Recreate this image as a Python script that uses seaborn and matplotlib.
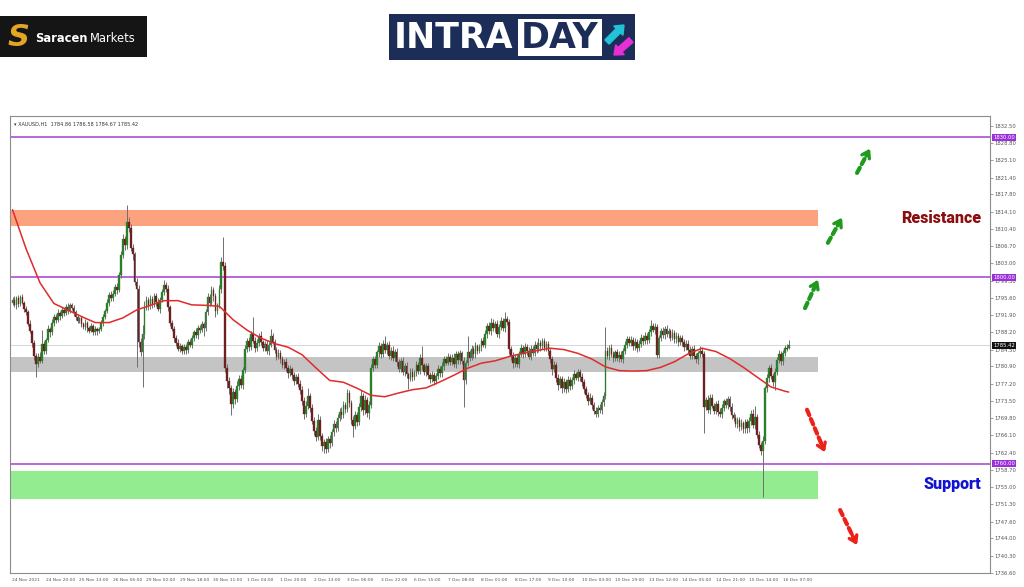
import matplotlib
matplotlib.use('Agg')
import matplotlib.pyplot as plt
import matplotlib.patches as mpatches
import matplotlib.transforms as mtrans
import numpy as np
import pandas as pd
import seaborn as sns

sns.set_style('white')
plt.rcParams['font.family'] = ['DejaVu Sans']

# ---------------- data ----------------
tick_labels = ["24 Nov 2021", "24 Nov 20:00", "25 Nov 13:00", "26 Nov 06:00", "29 Nov 02:00",
               "29 Nov 18:00", "30 Nov 11:00", "1 Dec 04:00", "1 Dec 20:00", "2 Dec 13:00",
               "3 Dec 06:00", "3 Dec 22:00", "6 Dec 15:00", "7 Dec 08:00", "8 Dec 01:00",
               "8 Dec 17:00", "9 Dec 10:00", "10 Dec 03:00", "10 Dec 19:00", "13 Dec 12:00",
               "14 Dec 05:00", "14 Dec 21:00", "15 Dec 14:00", "16 Dec 07:00"]
bars_per_label = 17

first_open = 1794.6
closes = [
    1795.2, 1794.0, 1795.5, 1794.3, 1795.8, 1794.6, 1793.2, 1792.5, 1790.1, 1788.4, 1785.9, 1783.2, 1781.4, 1783.0, 1782.1, 1785.8, 1784.2,
    1786.5, 1789.0, 1788.2, 1790.3, 1791.6, 1790.8, 1792.4, 1791.7, 1793.0, 1792.3, 1793.6, 1792.8, 1794.1, 1793.5, 1792.6, 1791.4, 1790.7,
    1791.2, 1790.0, 1789.4, 1790.3, 1789.1, 1788.6, 1789.5, 1788.2, 1788.9, 1788.4, 1789.0, 1790.2, 1791.5, 1792.8, 1794.5, 1796.3, 1795.6,
    1796.5, 1798.0, 1797.2, 1800.5, 1804.8, 1808.2, 1806.9, 1811.8, 1810.6, 1806.3, 1804.9, 1799.1, 1797.4, 1786.2, 1784.0, 1787.8, 1793.5,
    1795.1, 1793.8, 1795.4, 1794.2, 1796.0, 1794.7, 1793.3, 1795.2, 1796.8, 1798.4, 1797.5, 1793.6, 1790.2, 1788.9, 1787.1, 1786.0, 1784.7,
    1785.3, 1784.1, 1785.0, 1784.4, 1786.2, 1785.5, 1787.0, 1788.3, 1787.6, 1789.2, 1788.7, 1789.9, 1789.1, 1792.5, 1795.8, 1794.6, 1797.2,
    1795.9, 1792.8, 1794.0, 1797.5, 1803.2, 1802.4, 1780.5, 1777.8, 1776.2, 1772.8, 1775.4, 1773.9, 1776.8, 1778.3, 1776.9, 1780.2, 1784.6,
    1786.3, 1785.1, 1787.9, 1786.4, 1784.8, 1786.0, 1787.5, 1786.1, 1784.9, 1785.7, 1784.3, 1785.6, 1787.4, 1786.2, 1784.5, 1783.0, 1783.8,
    1782.4, 1781.1, 1781.9, 1780.6, 1779.4, 1780.3, 1779.0, 1777.8, 1778.6, 1777.2, 1775.9, 1773.5, 1770.8, 1772.4, 1774.6, 1772.0, 1769.3,
    1767.1, 1765.8, 1769.5, 1766.0, 1763.8, 1764.6, 1763.2, 1765.3, 1764.4, 1766.8, 1768.5, 1767.6, 1769.9, 1771.2, 1770.4, 1772.6, 1771.8,
    1775.2, 1773.0, 1769.4, 1768.2, 1770.5, 1768.9, 1772.3, 1774.6, 1771.5, 1773.8, 1770.9, 1772.7, 1780.6, 1782.4, 1781.3, 1783.9, 1785.2,
    1783.6, 1785.8, 1784.4, 1785.5, 1783.1, 1784.3, 1782.7, 1784.0, 1781.8, 1780.4, 1782.1, 1779.6, 1781.0, 1779.2, 1778.3, 1779.8, 1778.6,
    1779.5, 1781.2, 1780.0, 1782.6, 1781.1, 1779.7, 1780.9, 1779.0, 1778.2, 1779.1, 1777.8, 1778.9, 1780.3, 1779.4, 1781.0, 1782.5, 1781.7,
    1783.0, 1781.9, 1782.8, 1781.4, 1783.5, 1782.2, 1783.7, 1782.1, 1778.0, 1781.6, 1783.9, 1782.8, 1784.6, 1783.5, 1785.2, 1784.3, 1785.0,
    1786.4, 1785.6, 1787.9, 1789.6, 1788.5, 1790.3, 1789.2, 1790.0, 1787.8, 1789.4, 1790.6, 1789.1, 1791.0, 1790.4, 1784.6, 1783.2, 1781.6,
    1782.8, 1781.4, 1783.5, 1784.8, 1783.6, 1785.1, 1784.2, 1783.0, 1784.7, 1783.8, 1785.5, 1784.6, 1786.0, 1785.2, 1786.3, 1784.9, 1785.7,
    1784.1, 1782.5, 1780.3, 1781.2, 1778.4, 1776.9, 1778.2, 1776.3, 1777.5, 1776.1, 1778.0, 1776.8, 1777.9, 1779.2, 1778.5, 1779.6, 1778.7,
    1777.6, 1776.0, 1774.8, 1773.5, 1774.2, 1772.6, 1771.3, 1770.8, 1772.0, 1771.5, 1773.2, 1774.6, 1784.3, 1783.1, 1784.9, 1783.6, 1782.8,
    1783.9, 1782.7, 1783.4, 1782.5, 1784.2, 1785.6, 1786.8, 1785.9, 1786.5, 1785.2, 1786.1, 1784.9, 1785.8, 1787.0, 1786.3, 1787.4, 1786.6,
    1788.2, 1789.6, 1788.8, 1789.3, 1783.4, 1786.9, 1788.5, 1787.6, 1788.9, 1787.8, 1788.4, 1787.1, 1788.0, 1786.7, 1787.5, 1786.2, 1787.0,
    1786.1, 1785.0, 1785.8, 1784.4, 1783.2, 1784.6, 1783.1, 1782.4, 1783.7, 1784.3, 1783.5, 1772.3, 1773.8, 1771.6, 1774.2, 1772.5, 1771.4,
    1772.8, 1771.2, 1770.6, 1772.0, 1773.4, 1772.6, 1773.9, 1772.1, 1770.5, 1769.8, 1768.6, 1769.4, 1767.9, 1768.7, 1767.4, 1768.9, 1767.6,
    1769.2, 1770.8, 1768.4, 1770.1, 1766.3, 1764.0, 1762.8, 1765.0, 1776.2, 1778.4, 1780.6, 1778.9, 1777.6, 1779.8, 1782.3, 1783.5, 1782.1,
    1783.8, 1784.9, 1784.86, 1785.42,
]
up_wick = [
    0.6, 0.9, 0.4, 0.8, 0.5, 0.7, 0.4, 0.6, 0.5, 0.8, 0.4, 0.6, 0.5, 0.7, 0.9, 2.9, 0.6,
    0.5, 0.7, 0.4, 0.8, 0.6, 0.5, 0.9, 0.4, 0.7, 0.5, 0.6, 0.8, 0.5, 0.4, 0.6, 0.5, 0.7,
    0.4, 0.6, 0.5, 0.7, 0.4, 0.5, 0.8, 0.4, 0.6, 0.5, 0.4, 0.7, 0.6, 0.5, 0.9, 0.6, 0.8,
    0.7, 0.5, 0.8, 0.6, 0.9, 1.1, 0.7, 3.7, 1.2, 0.8, 0.9, 0.6, 0.7, 1.0, 0.8, 2.0, 1.5,
    0.8, 0.6, 0.9, 0.5, 0.7, 0.6, 0.8, 0.5, 0.7, 1.1, 0.6, 0.8, 0.5, 0.7, 0.6, 0.5, 0.8,
    0.6, 0.5, 0.7, 0.8, 0.5, 0.6, 0.7, 0.5, 0.9, 0.6, 0.5, 0.7, 0.6, 0.8, 0.9, 0.6, 1.0,
    0.8, 0.7, 0.6, 0.9, 1.2, 5.5, 0.8, 1.0, 0.9, 0.7, 0.8, 0.6, 0.9, 0.7, 0.8, 0.6, 0.9,
    0.7, 0.9, 0.6, 3.6, 0.8, 0.7, 0.6, 0.9, 0.5, 0.7, 0.8, 0.6, 1.6, 0.7, 0.5, 0.6, 0.8,
    0.6, 0.8, 0.5, 0.7, 0.6, 0.9, 0.5, 0.7, 0.6, 0.8, 0.7, 0.9, 0.8, 1.1, 1.6, 0.7, 0.8,
    0.7, 0.9, 1.3, 0.8, 0.6, 0.7, 0.9, 0.6, 0.8, 0.7, 0.9, 0.6, 0.8, 0.7, 0.9, 0.8, 0.7,
    0.8, 0.7, 0.6, 0.8, 0.9, 0.7, 0.8, 1.2, 0.7, 0.9, 0.6, 0.8, 0.9, 0.7, 0.8, 0.6, 1.0,
    0.7, 0.8, 1.7, 0.6, 0.8, 0.7, 0.9, 0.6, 0.8, 0.7, 0.6, 0.8, 0.7, 0.9, 0.6, 0.8, 0.7,
    0.6, 0.8, 0.7, 0.9, 2.7, 0.6, 0.8, 0.7, 0.6, 0.8, 0.7, 0.6, 0.9, 0.7, 0.8, 0.6, 0.7,
    0.8, 0.6, 0.7, 0.9, 0.6, 0.8, 0.7, 0.6, 0.8, 0.7, 3.5, 0.6, 0.8, 0.7, 0.9, 0.6, 0.8,
    0.7, 0.9, 0.8, 0.6, 0.8, 0.9, 0.7, 0.6, 0.8, 0.7, 0.9, 0.6, 1.6, 0.8, 0.7, 0.6, 0.8,
    0.7, 0.8, 0.6, 0.9, 0.7, 0.8, 0.6, 0.9, 0.7, 0.6, 0.8, 0.7, 0.9, 0.6, 0.8, 0.7, 0.6,
    0.6, 0.8, 0.7, 0.9, 0.6, 0.8, 0.7, 0.6, 0.9, 0.7, 0.8, 0.6, 0.7, 0.9, 0.6, 0.8, 0.7,
    0.7, 0.6, 0.8, 0.7, 0.9, 0.6, 0.7, 0.8, 0.6, 0.9, 0.7, 0.8, 5.1, 0.7, 0.6, 0.8, 0.7,
    0.6, 0.8, 0.7, 0.9, 0.6, 0.8, 0.7, 0.6, 0.9, 0.7, 0.8, 0.6, 0.7, 0.9, 0.6, 0.8, 0.7,
    0.8, 1.3, 0.7, 0.9, 0.6, 0.8, 0.7, 0.9, 0.6, 0.8, 0.7, 0.6, 0.9, 0.7, 0.8, 0.6, 0.7,
    0.7, 0.6, 0.8, 0.7, 0.9, 0.6, 0.8, 0.7, 0.6, 0.9, 0.7, 0.8, 0.6, 0.9, 0.7, 0.8, 0.6,
    0.6, 0.8, 0.7, 0.9, 0.6, 0.8, 0.7, 0.6, 0.9, 0.7, 0.8, 0.6, 0.7, 0.9, 0.6, 0.8, 0.7,
    0.8, 0.7, 0.9, 2.4, 0.6, 0.8, 0.7, 0.9, 0.6, 0.8, 0.7, 0.9, 0.6, 0.8, 0.7, 0.9, 0.6,
    0.7, 0.6, 0.8, 1.16,
]
dn_wick = [
    0.5, 0.4, 0.8, 0.6, 0.5, 0.4, 0.7, 0.5, 0.6, 0.4, 0.8, 0.9, 2.8, 0.6, 0.5, 0.4, 0.7,
    0.6, 0.4, 0.9, 0.5, 0.7, 0.6, 0.4, 0.8, 0.5, 0.6, 0.4, 0.7, 0.5, 0.6, 0.8, 0.5, 0.4,
    0.5, 0.7, 0.4, 0.6, 0.8, 0.5, 0.4, 0.6, 0.5, 0.7, 0.4, 0.5, 0.6, 0.4, 0.5, 0.7, 0.6,
    0.6, 0.5, 0.8, 0.4, 0.6, 0.7, 1.0, 0.8, 0.9, 0.7, 1.1, 0.8, 16.6, 1.2, 0.9, 7.5, 1.0,
    0.5, 0.9, 0.6, 0.7, 0.5, 0.8, 0.6, 0.9, 0.5, 0.6, 0.7, 0.8, 0.6, 0.5, 0.9, 0.7, 0.6,
    0.7, 0.6, 0.5, 0.8, 0.6, 0.5, 0.7, 0.6, 0.5, 0.8, 0.6, 0.5, 1.6, 0.7, 0.6, 0.8, 0.5,
    1.0, 1.4, 0.7, 0.6, 0.8, 0.9, 0.7, 1.5, 1.2, 2.3, 0.8, 1.0, 0.7, 0.9, 0.6, 0.8, 0.7,
    0.6, 0.8, 0.7, 0.5, 0.9, 0.6, 0.7, 0.5, 0.8, 0.6, 0.7, 0.9, 0.6, 0.5, 0.8, 0.7, 0.6,
    0.7, 0.5, 0.8, 0.6, 0.9, 0.5, 0.7, 0.8, 0.6, 0.7, 0.9, 0.8, 1.2, 0.7, 0.6, 0.9, 0.8,
    0.9, 0.8, 0.7, 0.9, 1.0, 1.5, 0.8, 0.7, 0.9, 0.6, 0.8, 0.7, 0.6, 0.8, 0.7, 0.6, 0.9,
    0.7, 0.8, 0.9, 2.4, 0.7, 0.8, 0.6, 0.9, 1.1, 0.7, 0.8, 1.2, 0.7, 0.6, 0.8, 0.7, 0.9,
    0.8, 0.6, 0.7, 0.9, 0.6, 0.8, 0.7, 0.6, 0.9, 0.8, 0.7, 0.6, 0.8, 0.7, 2.3, 0.6, 0.8,
    0.7, 0.6, 0.8, 0.7, 0.9, 0.6, 0.8, 0.7, 0.9, 0.6, 0.8, 0.7, 0.6, 0.8, 0.7, 0.9, 0.6,
    0.6, 0.8, 0.7, 0.6, 0.9, 0.7, 0.8, 0.6, 5.8, 0.9, 0.7, 0.8, 0.6, 0.7, 0.9, 0.8, 0.6,
    0.8, 0.6, 0.7, 0.9, 0.6, 0.8, 0.7, 0.9, 0.6, 0.8, 0.7, 0.6, 0.8, 0.7, 1.0, 0.9, 1.1,
    0.8, 0.7, 0.9, 0.6, 0.8, 0.7, 0.9, 0.6, 0.8, 0.7, 0.6, 0.8, 0.7, 0.9, 0.6, 0.8, 0.7,
    0.7, 0.9, 1.3, 0.6, 0.8, 1.1, 0.7, 1.2, 0.8, 1.0, 0.6, 0.9, 0.7, 0.8, 0.6, 0.7, 0.9,
    0.8, 0.7, 0.6, 0.9, 0.7, 0.8, 0.6, 0.8, 0.7, 0.6, 0.9, 0.8, 0.7, 0.6, 0.8, 0.7, 0.9,
    0.7, 0.6, 0.8, 0.7, 0.9, 0.6, 0.8, 0.7, 0.6, 0.8, 0.7, 0.9, 0.6, 0.8, 0.7, 0.6, 0.8,
    0.7, 0.8, 0.6, 0.9, 0.7, 0.8, 0.6, 0.7, 0.9, 0.6, 0.8, 0.7, 0.6, 0.8, 0.7, 0.9, 0.6,
    0.8, 0.7, 0.6, 0.9, 0.7, 0.8, 0.6, 0.7, 0.9, 0.8, 0.6, 5.7, 0.8, 0.7, 0.9, 0.6, 0.8,
    0.7, 0.9, 0.6, 0.8, 0.7, 0.6, 0.9, 0.7, 0.8, 0.6, 0.7, 0.9, 0.8, 0.6, 0.7, 0.8, 0.9,
    0.7, 0.8, 0.6, 0.9, 0.8, 0.7, 0.9, 9.9, 0.8, 0.7, 0.9, 0.6, 0.8, 1.8, 0.7, 0.6, 0.8,
    0.8, 0.7, 0.6, 0.19,
]

ma_step = 7
ma_values = [1814.5, 1806.0, 1798.8, 1794.4, 1793.0, 1791.6, 1790.3, 1790.3, 1791.3, 1793.0,
             1794.0, 1795.0, 1795.0, 1794.1, 1794.0, 1793.8, 1790.9, 1788.7, 1787.0, 1785.8,
             1785.0, 1783.4, 1780.6, 1777.9, 1777.5, 1776.2, 1774.7, 1774.4, 1775.2, 1775.9,
             1776.3, 1777.6, 1779.0, 1780.5, 1781.6, 1782.1, 1783.0, 1783.7, 1784.3, 1784.8,
             1784.5, 1783.7, 1782.5, 1780.8, 1780.0, 1779.9, 1780.0, 1780.7, 1781.9, 1783.6,
             1784.8, 1784.1, 1782.6, 1780.7, 1778.6, 1776.5, 1775.6, 1775.4]

levels = [1830.0, 1800.0, 1760.0]
last_price = 1785.42
zone_names = ["resistance", "pivot", "support"]
zone_lo = [1811.0, 1779.7, 1752.5]
zone_hi = [1814.5, 1782.9, 1758.5]
zone_colors = ["#fda27e", "#c4c4c4", "#93ec8f"]
price_ticks = [1832.50, 1828.80, 1825.10, 1821.40, 1817.80, 1814.10, 1810.40, 1806.70, 1803.00,
               1799.30, 1795.60, 1791.90, 1788.20, 1784.50, 1780.90, 1777.20, 1773.50, 1769.80,
               1766.10, 1762.40, 1758.70, 1755.00, 1751.30, 1747.60, 1744.00, 1740.30, 1736.60]

# ---------------- frame ----------------
n = len(closes)
bars = np.arange(n)
opens = np.array([first_open] + closes[:-1])
cl = np.array(closes)
highs = np.maximum(opens, cl) + np.array(up_wick)
lows = np.minimum(opens, cl) - np.array(dn_wick)
df = pd.DataFrame({"bar": bars, "open": opens, "close": cl, "high": highs, "low": lows})
ma_bars = list(range(0, n - 1, ma_step)) + [n - 1]
ma_df = pd.DataFrame({"bar": ma_bars, "ma": ma_values})

W, H = 1024, 587
fig = plt.figure(figsize=(W / 100, H / 100), dpi=100)
fig.patch.set_facecolor('white')
ax_top, ax_bot, ax_left, ax_right = 116, 573, 10, 990
ax = fig.add_axes([ax_left / W, 1 - ax_bot / H, (ax_right - ax_left) / W, (ax_bot - ax_top) / H])
ax.set_facecolor('white')

x_per_bar = 1.97
x0_px = 12.5
ax.set_xlim((ax_left - x0_px) / x_per_bar, (ax_right - x0_px) / x_per_bar)
ax.set_ylim(1736.6, 1834.6)

zone_end = (818 - x0_px) / x_per_bar
xl = ax.get_xlim()[0]
for lo, hi, c in zip(zone_lo, zone_hi, zone_colors):
    ax.add_patch(mpatches.Rectangle((xl, lo), zone_end - xl, hi - lo, facecolor=c,
                                    edgecolor='none', zorder=1))

for lv in levels:
    ax.axhline(lv, color='#a23fd6', lw=1.1, zorder=2)
ax.axhline(last_price, color='#cfcfcf', lw=0.6, zorder=2)

# candles
up = df["close"] >= df["open"]
colors = np.where(up, '#2a7f2a', '#6e1f1f')
ax.vlines(df["bar"], df["low"], df["high"], color='#6f6f6f', lw=0.7, zorder=3)
body = (df["close"] - df["open"]).to_numpy()
body = np.where(np.abs(body) < 0.2, np.where(body >= 0, 0.2, -0.2), body)
ax.bar(df["bar"], body, bottom=df["open"], width=0.85, color=colors, edgecolor=colors,
       linewidth=0.25, zorder=4)

sns.lineplot(data=ma_df, x="bar", y="ma", ax=ax, color='#e12a2a', lw=1.1, zorder=5,
             estimator=None, legend=False)

# axes styling
for s in ax.spines.values():
    s.set_color('#8c8c8c')
    s.set_linewidth(0.8)
ax.yaxis.tick_right()
ax.set_yticks(price_ticks)
ax.set_yticklabels([f"{v:.2f}" for v in price_ticks], fontsize=3.8, color='#555555')
tick_bars = [i * bars_per_label for i in range(len(tick_labels))]
ax.set_xticks(tick_bars)
ax.set_xticklabels(tick_labels, fontsize=3.2, color='#555555', ha='left')
ax.tick_params(axis='both', length=2, width=0.5, color='#777777', pad=1.5)
ax.set_xlabel('')
ax.set_ylabel('')

trans = mtrans.blended_transform_factory(ax.transAxes, ax.transData)
for lv in levels:
    ax.text(1.003, lv, f"{lv:.2f}", transform=trans, fontsize=3.8, color='white', va='center',
            ha='left', bbox=dict(boxstyle='square,pad=0.2', fc='#9a30d8', ec='none'),
            clip_on=False, zorder=10)
ax.text(1.003, last_price, f"{last_price:.2f}", transform=trans, fontsize=3.8, color='white',
        va='center', ha='left', bbox=dict(boxstyle='square,pad=0.2', fc='#111111', ec='none'),
        clip_on=False, zorder=10)

ax.text(0.004, 0.988, "\u25BE XAUUSD,H1  1784.86 1786.58 1784.67 1785.42", transform=ax.transAxes,
        fontsize=3.6, color='#333333', va='top', ha='left')

# labels
ax.text((941 - x0_px) / x_per_bar, 1812.75, "Resistance", fontsize=11.5, fontweight='black',
        color='#8b0d0d', ha='center', va='center', family=['Roboto', 'DejaVu Sans'], zorder=10)
ax.text((952 - x0_px) / x_per_bar, 1755.7, "Support", fontsize=11.5, fontweight='black',
        color='#1313d3', ha='center', va='center', family=['Roboto', 'DejaVu Sans'], zorder=10)

# arrows
arrows = [((402.3, 1793.4), (408.9, 1799.5), '#1f9a1f'),
          ((413.9, 1807.4), (421.1, 1812.8), '#1f9a1f'),
          ((428.7, 1822.4), (435.3, 1827.6), '#1f9a1f'),
          ((403.3, 1771.6), (412.4, 1762.5), '#ec2219'),
          ((420.1, 1750.1), (428.7, 1742.6), '#ec2219')]
for (xs, ys), (xe, ye), c in arrows:
    ax.annotate('', xy=(xe, ye), xytext=(xs, ys),
                arrowprops=dict(arrowstyle='-', color=c, lw=3, linestyle=(0, (1.4, 1.0)),
                                shrinkA=0, shrinkB=3), zorder=9)
    ax.annotate('', xy=(xe, ye), xytext=(xs + (xe - xs) * 0.7, ys + (ye - ys) * 0.7),
                arrowprops=dict(arrowstyle='->,head_length=0.45,head_width=0.3', color=c, lw=2.4,
                                shrinkA=0, shrinkB=0), zorder=9)

# ---------------- logos (pixel overlay) ----------------
lax = fig.add_axes([0, 0, 1, 1])
lax.set_xlim(0, W)
lax.set_ylim(H, 0)
lax.axis('off')
lax.patch.set_alpha(0)

lax.add_patch(mpatches.Rectangle((0, 16), 147, 41, facecolor='#151515', edgecolor='none'))
lax.text(19, 38, "S", fontsize=22, fontweight='bold', style='italic', color='#e3a526',
         ha='center', va='center')
lax.text(35, 38.5, "Saracen", fontsize=8.3, fontweight='bold', color='white', ha='left', va='center')
lax.text(89.5, 38.5, "Markets", fontsize=8.3, color='white', ha='left', va='center')

lax.add_patch(mpatches.Rectangle((389, 14), 246, 46, facecolor='#1c2e58', edgecolor='none'))
lax.text(394, 38, "INTRA", fontsize=25, fontweight='bold', color='white', ha='left', va='center')
lax.add_patch(mpatches.Rectangle((518, 19), 84, 37, facecolor='white', edgecolor='none'))
lax.text(521, 38, "DAY", fontsize=25, fontweight='bold', color='#1c2e58', ha='left', va='center')
lax.add_patch(mpatches.FancyArrow(607, 42, 17, -17, width=6, head_width=13, head_length=8,
                                  length_includes_head=True, color='#22c3d6'))
lax.add_patch(mpatches.FancyArrow(631, 40, -17, 15, width=6, head_width=13, head_length=8,
                                  length_includes_head=True, color='#e82fd3'))

fig.savefig('out.png', dpi=100, facecolor='white')
